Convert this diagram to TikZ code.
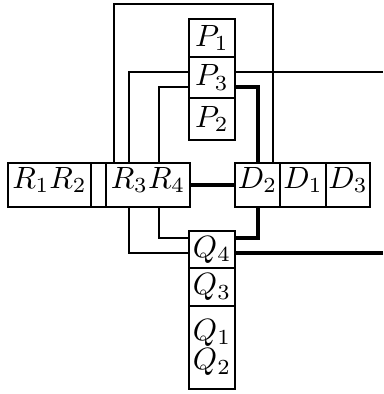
\documentclass[tikz,border=0pt]{standalone}
\usetikzlibrary{calc}
\newcommand\pxu{0.325pt}
\tikzset{
  cell/.style={draw,line width=0.95pt,inner sep=0pt,minimum width=46*\pxu},
  rowcell/.style={cell,minimum height=44*\pxu,text height=7pt,text depth=5pt},
  wire/.style={line width=0.95pt},
  heavy/.style={line width=1pt}
}

\begin{document}
\begin{tikzpicture}[x=\pxu,y=-\pxu]
\useasboundingbox (0,0) rectangle (383,394);
% wire columns, levels and the free right end
\coordinate (a) at (114,0);
\coordinate (b) at (129,0);
\coordinate (c) at (159,0);
\coordinate (d) at (258,0);
\coordinate (e) at (273,0);
\coordinate (top) at (0,4);
\coordinate (pA) at (0,72);
\coordinate (pB) at (0,87);
\coordinate (qA) at (0,238);
\coordinate (qB) at (0,253);
\coordinate (edge) at (383,0);

% upper stack
\node[cell,minimum height=38*\pxu] (P1) at (212,38) {$P_1$};
\node[cell,minimum height=41*\pxu] (P3) at (212,77.5) {$P_3$};
\node[cell,minimum height=42*\pxu] (P2) at (212,119) {$P_2$};
% middle row
\node[rowcell,minimum width=83*\pxu] (R12) at (49.5,185) {$R_1R_2$};
\node[rowcell,minimum width=15*\pxu] (gap) at (98.5,185) {};
\node[rowcell,minimum width=84*\pxu] (R34) at (148,185) {$R_3R_4$};
\node[rowcell,minimum width=45*\pxu] (D2) at (257.5,185) {$D_2$};
\node[rowcell] (D1) at (303,185) {$D_1$};
\node[rowcell,minimum width=44*\pxu] (D3) at (348,185) {$D_3$};
% lower stack
\node[cell,minimum height=37*\pxu] (Q4) at (212,249.5) {$Q_4$};
\node[cell,minimum height=38*\pxu] (Q3) at (212,287) {$Q_3$};
\node[cell,minimum height=83*\pxu] (Q12) at (212,347.5)
  {\raisebox{3.5pt}{\begin{tabular}{@{}c@{}}$Q_1$\\[-2.5pt]$Q_2$\end{tabular}}};

% connectors
\draw[wire] (R34.north -| a) -- (a |- top) -- (e |- top) -- (D2.north -| e);
\draw[wire] (P3.west |- pA) -| (R34.north -| b);
\draw[wire] (P3.west |- pB) -| (R34.north -| c);
\draw[heavy] (P3.east |- pB) -| (D2.north -| d);
\draw[wire] (P3.east |- pA) -- (edge |- pA);
\draw[heavy] (R34.east) -- (D2.west);
\draw[wire] (Q4.west |- qB) -| (R34.south -| b);
\draw[wire] (Q4.west |- qA) -| (R34.south -| c);
\draw[heavy] (Q4.east |- qA) -| (D2.south -| d);
\draw[heavy] (Q4.east |- qB) -- (edge |- qB);
\end{tikzpicture}
\end{document}
